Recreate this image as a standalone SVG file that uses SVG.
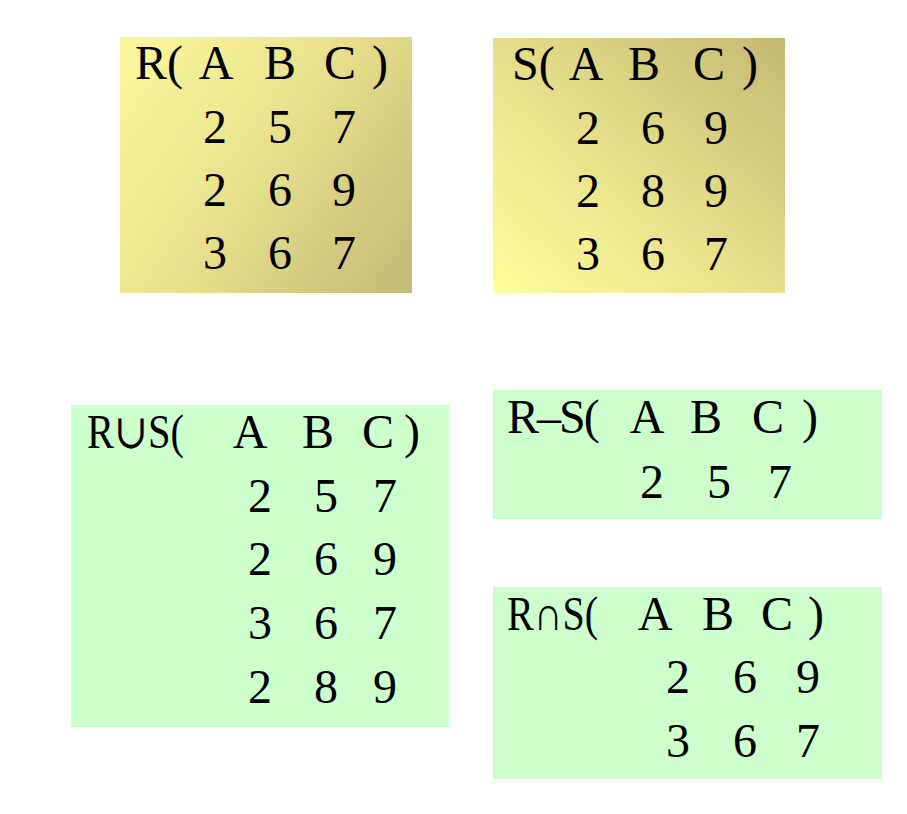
<svg xmlns="http://www.w3.org/2000/svg" width="907" height="814" viewBox="0 0 907 814">
<defs>
<linearGradient id="gR" x1="0" y1="0.2" x2="1" y2="0.8">
<stop offset="0" stop-color="#F8F59A"/>
<stop offset="0.5" stop-color="#E6E08C"/>
<stop offset="1" stop-color="#C6BF78"/>
</linearGradient>
<linearGradient id="gS" x1="0" y1="1" x2="1" y2="0">
<stop offset="0" stop-color="#FFFF9C"/>
<stop offset="0.5" stop-color="#E4DE8A"/>
<stop offset="1" stop-color="#C2BA72"/>
</linearGradient>
<style>
text{font-family:"Liberation Serif","DejaVu Serif",serif;font-size:48px;fill:#000;text-anchor:middle}
text.st{text-anchor:start}
.g{fill:#CCFFCC}
</style>
</defs>
<rect width="907" height="814" fill="#FFFFFF"/>
<g id="R">
<rect x="120" y="37" width="292" height="256" fill="url(#gR)"/>
<text class="st" x="135" y="79">R(</text>
<text y="79"><tspan x="216">A</tspan><tspan x="280">B</tspan><tspan x="340">C</tspan><tspan x="380">)</tspan></text>
<text y="143"><tspan x="215">2</tspan><tspan x="280">5</tspan><tspan x="344">7</tspan></text>
<text y="206"><tspan x="215">2</tspan><tspan x="280">6</tspan><tspan x="344">9</tspan></text>
<text y="269"><tspan x="215">3</tspan><tspan x="280">6</tspan><tspan x="344">7</tspan></text>
</g>
<g id="S">
<rect x="493" y="38" width="292" height="255" fill="url(#gS)"/>
<text class="st" x="512" y="80">S(</text>
<text y="80"><tspan x="586">A</tspan><tspan x="644">B</tspan><tspan x="709">C</tspan><tspan x="750">)</tspan></text>
<text y="144"><tspan x="588">2</tspan><tspan x="653">6</tspan><tspan x="716">9</tspan></text>
<text y="207"><tspan x="588">2</tspan><tspan x="653">8</tspan><tspan x="716">9</tspan></text>
<text y="270"><tspan x="588">3</tspan><tspan x="653">6</tspan><tspan x="716">7</tspan></text>
</g>
<g id="RunionS">
<rect class="g" x="71" y="405" width="378" height="322"/>
<text class="st" x="87" y="448" textLength="97" lengthAdjust="spacingAndGlyphs">R∪S(</text>
<text y="448"><tspan x="250">A</tspan><tspan x="318">B</tspan><tspan x="378">C</tspan><tspan x="412">)</tspan></text>
<text y="512"><tspan x="260">2</tspan><tspan x="326">5</tspan><tspan x="385">7</tspan></text>
<text y="575"><tspan x="260">2</tspan><tspan x="326">6</tspan><tspan x="385">9</tspan></text>
<text y="639"><tspan x="260">3</tspan><tspan x="326">6</tspan><tspan x="385">7</tspan></text>
<text y="703"><tspan x="260">2</tspan><tspan x="326">8</tspan><tspan x="385">9</tspan></text>
</g>
<g id="RminusS">
<rect class="g" x="493" y="390" width="389" height="129"/>
<text class="st" x="507" y="433" letter-spacing="-2">R–S(</text>
<text y="433"><tspan x="647">A</tspan><tspan x="706">B</tspan><tspan x="768">C</tspan><tspan x="810">)</tspan></text>
<text y="498"><tspan x="652">2</tspan><tspan x="719">5</tspan><tspan x="780">7</tspan></text>
</g>
<g id="RintersectS">
<rect class="g" x="493" y="587" width="389" height="192"/>
<text class="st" x="507" y="630" textLength="91" lengthAdjust="spacingAndGlyphs">R∩S(</text>
<text y="630"><tspan x="655">A</tspan><tspan x="718">B</tspan><tspan x="777">C</tspan><tspan x="816">)</tspan></text>
<text y="693"><tspan x="678">2</tspan><tspan x="745">6</tspan><tspan x="808">9</tspan></text>
<text y="757"><tspan x="678">3</tspan><tspan x="745">6</tspan><tspan x="808">7</tspan></text>
</g>
<g id="connectors"/>
</svg>
